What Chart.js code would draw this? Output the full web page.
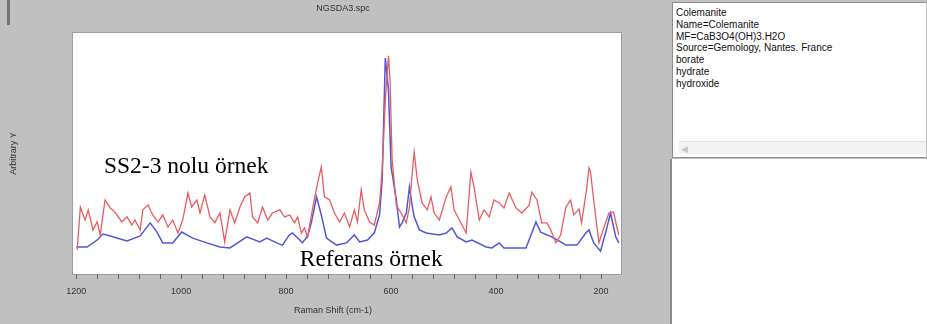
<!DOCTYPE html>
<html>
<head>
<meta charset="utf-8">
<title>NGSDA3.spc</title>
<script src="https://cdn.jsdelivr.net/npm/chart.js@4.4.0/dist/chart.umd.min.js"></script>
<style>
  html, body { margin: 0; padding: 0; background: #c0c0c0; }
  #wrap { position: relative; width: 927px; height: 324px; overflow: hidden; background: #c0c0c0; }
  #spec { position: absolute; left: 0; top: 0; }
  .edge { position: absolute; left: 7px; top: 0; width: 3px; height: 25px; background: #6f7478; }
  .info {
    position: absolute; left: 672px; top: 2px; width: 253px; height: 154px;
    background: #fff; border: 1px solid #8d8d8d; border-right: none;
    font: 10px "Liberation Sans", Arial, sans-serif; line-height: 11.8px; color: #111;
  }
  .info .lines { position: absolute; left: 3px; top: 4px; white-space: pre; }
  .info .hscroll {
    position: absolute; left: 6px; right: 0; top: 138px; height: 12px;
    background: #f3f3f3; border-top: 1px solid #e2e2e2;
  }
  .info .hscroll span { position: absolute; left: 2px; top: 2px; color: #c8c8c8; font-size: 9px; }
  .lower {
    position: absolute; left: 670px; top: 159px; width: 257px; height: 165px;
    background: #fff; border-left: 2px solid #8a8a8a;
  }
</style>
</head>
<body>
<div id="wrap">
  <canvas id="spec" width="927" height="324"></canvas>
  <div class="edge"></div>
  <div class="info">
    <div class="lines">Colemanite
Name=Colemanite
MF=CaB3O4(OH)3.H2O
Source=Gemology, Nantes. France
borate
hydrate
hydroxide</div>
    <div class="hscroll"><span>&#9664;</span></div>
  </div>
  <div class="lower"></div>
</div>

<script>
// sample spectrum (SS2-3), Raman shift in cm-1 and intensity
const sampleShift = [1198, 1192, 1183, 1177, 1168, 1160, 1154, 1145, 1135, 1126, 1113, 1103, 1094, 1088,
  1078, 1073, 1063, 1054, 1044, 1035, 1025, 1016, 1006, 997, 987, 980, 970, 964, 955, 945, 936, 926, 917,
  907, 898, 888, 879, 869, 864, 854, 845, 835, 826, 812, 803, 793, 784, 778, 771, 765, 759, 750, 740, 733,
  727, 717, 708, 698, 689, 679, 670, 664, 657, 651, 641, 632, 622, 617, 611, 605, 602, 598, 590, 581, 571,
  565, 560, 556, 550, 541, 531, 524, 518, 508, 495, 486, 480, 470, 457, 448, 442, 432, 423, 413, 404, 394,
  385, 375, 362, 351, 337, 332, 322, 313, 303, 296, 286, 277, 267, 258, 252, 242, 237, 227, 223, 220, 214,
  204, 195, 185, 176, 170, 166];
const sampleY = [10.0, 27.8, 22.4, 26.6, 18.3, 21.6, 16.2, 30.7, 27.4, 25.7, 21.6, 23.7, 20.3, 22.4,
  18.3, 26.6, 28.6, 24.5, 21.6, 24.5, 19.5, 22.4, 17.0, 22.4, 33.6, 27.8, 30.7, 25.3, 32.8, 23.7, 21.2, 25.3, 13.3,
  26.6, 21.2, 27.8, 32.0, 33.6, 23.7, 21.2, 27.8, 22.4, 25.3, 26.6, 23.7, 24.5, 21.2, 23.7, 17.0, 19.1, 15.4, 26.6, 37.8, 44.4,
  32.0, 30.7, 25.3, 21.6, 25.3, 19.5, 26.6, 21.6, 34.9, 26.6, 21.6, 20.3, 29.5, 43.2, 72.2, 90.5, 80.5, 47.3, 28.6, 25.3, 21.2,
  27.8, 41.1, 50.6, 39.0, 29.5, 26.6, 32.0, 25.3, 22.4, 32.0, 36.1, 26.6, 22.4, 17.0, 42.3, 36.1, 22.4, 26.6, 23.7, 30.7, 29.5,
  27.4, 33.6, 27.4, 25.3, 28.6, 34.0, 30.7, 21.2, 21.2, 18.3, 12.9, 16.2, 27.8, 30.7, 24.5, 27.0, 21.2, 36.1, 44.0, 42.3, 30.7,
  12.9, 19.1, 25.3, 25.7, 19.5, 16.2];

// reference colemanite spectrum
const refShift = [1200, 1179, 1160, 1149, 1135, 1116, 1103, 1078, 1059, 1046, 1035, 1016, 999, 978, 951,
  926, 907, 875, 850, 837, 818, 807, 794, 788, 774, 769, 759, 752, 742, 733, 723, 704, 685, 670, 660, 645,
  632, 622, 617, 611, 605, 600, 590, 584, 579, 571, 565, 560, 556, 546, 533, 508, 495, 484, 474, 457, 446,
  419, 408, 394, 385, 362, 343, 332, 324, 315, 294, 277, 267, 246, 229, 223, 214, 201, 191, 182, 172, 166];
const refY = [11.2, 11.2, 14.1, 16.6, 15.8, 14.5, 13.7, 15.8, 21.2, 17.4, 12.9, 12.9, 17.4, 14.9, 12.9,
  11.2, 10.8, 15.4, 13.3, 14.9, 12.9, 12.0, 16.2, 17.0, 14.1, 12.9, 15.8, 21.2, 32.0, 24.5, 14.9, 12.0, 12.9, 16.2, 13.3, 14.1,
  17.0, 24.5, 39.0, 89.6, 76.3, 44.4, 30.7, 19.5, 21.2, 25.3, 36.1, 28.6, 23.7, 18.3, 17.0, 16.2, 17.0, 19.1, 15.4, 13.3, 14.1,
  11.2, 10.8, 12.9, 10.8, 10.8, 10.8, 17.0, 21.6, 17.4, 15.4, 13.3, 12.0, 12.0, 17.0, 18.3, 12.9, 9.5, 17.4, 25.3, 15.4, 12.9];

const xTicks = [1200, 1000, 800, 600, 400, 200];

const toPoints = (xs, ys) => xs.map((x, i) => ({ x: x, y: ys[i] }));

// text written inside the plot, anchored in data units
const notes = [
  { text: 'SS2-3 nolu örnek', x: 1147, y: 42 },
  { text: 'Referans örnek', x: 774, y: 3.3 }
];

const frame = {
  id: 'frame',
  beforeDraw(chart) {
    const { ctx, chartArea: a } = chart;
    ctx.save();
    ctx.fillStyle = '#c0c0c0';
    ctx.fillRect(0, 0, chart.width, chart.height);
    ctx.fillStyle = '#ffffff';
    ctx.fillRect(a.left, a.top, a.right - a.left, a.bottom - a.top);
    ctx.strokeStyle = '#9c9c9c';
    ctx.lineWidth = 1;
    ctx.strokeRect(a.left - 0.5, a.top - 0.5, a.right - a.left + 1, a.bottom - a.top + 1);
    ctx.restore();
  },
  afterDraw(chart) {
    const { ctx, scales } = chart;
    ctx.save();
    ctx.fillStyle = '#333';
    ctx.font = '9px "Liberation Sans", Arial, sans-serif';
    ctx.textAlign = 'center';
    ctx.textBaseline = 'middle';
    ctx.fillText('NGSDA3.spc', 343, 9);
    ctx.fillText('Raman Shift (cm-1)', 333, 311);

    ctx.fillStyle = '#000';
    ctx.font = '23.5px "Liberation Serif", "Times New Roman", serif';
    ctx.textAlign = 'left';
    ctx.textBaseline = 'alphabetic';
    notes.forEach(n => {
      ctx.fillText(n.text, scales.x.getPixelForValue(n.x), scales.y.getPixelForValue(n.y));
    });
    ctx.restore();
  }
};

new Chart(document.getElementById('spec'), {
  type: 'line',
  data: {
    datasets: [
      {
        label: 'SS2-3',
        data: toPoints(sampleShift, sampleY),
        borderColor: 'rgb(232, 92, 98)',
        borderWidth: 1.3
      },
      {
        label: 'Colemanite',
        data: toPoints(refShift, refY),
        borderColor: 'rgb(82, 86, 214)',
        borderWidth: 1.5
      }
    ]
  },
  options: {
    responsive: false,
    animation: false,
    events: [],
    elements: { point: { radius: 0 }, line: { tension: 0 } },
    layout: { padding: { left: 0, top: 33, right: 306, bottom: 0 } },
    plugins: {
      legend: { display: false },
      tooltip: { enabled: false }
    },
    scales: {
      x: {
        type: 'linear',
        reverse: true,
        min: 162,
        max: 1206,
        afterFit(s) { s.height = 50; },
        border: { display: false },
        grid: {
          drawOnChartArea: false,
          tickLength: 5,
          tickColor: '#666'
        },
        ticks: {
          stepSize: 40,
          includeBounds: false,
          autoSkip: false,
          maxRotation: 0,
          padding: 7,
          color: '#333',
          font: { size: 9, family: '"Liberation Sans", Arial, sans-serif' },
          callback: v => (xTicks.includes(v) ? String(v) : '')
        }
      },
      y: {
        min: 0,
        max: 100,
        afterFit(s) { s.width = 73; },
        border: { display: false },
        grid: { display: false },
        ticks: { display: false },
        title: {
          display: true,
          text: 'Arbitrary Y',
          color: '#333',
          padding: { top: 8, bottom: 0 },
          font: { size: 9, family: '"Liberation Sans", Arial, sans-serif' }
        }
      }
    }
  },
  plugins: [frame]
});
</script>
</body>
</html>
